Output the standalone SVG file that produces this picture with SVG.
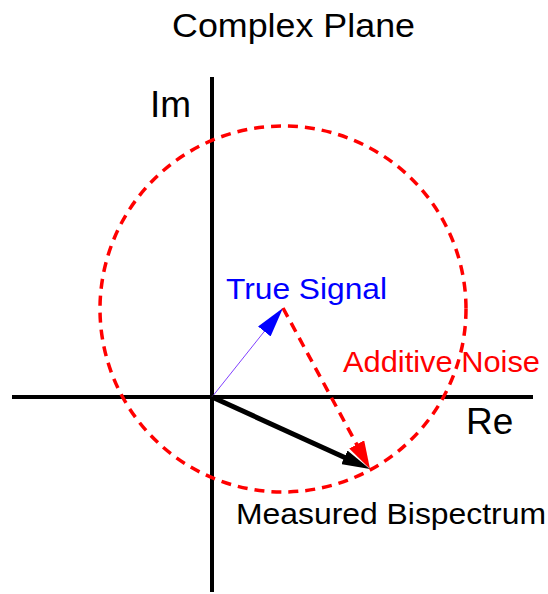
<svg xmlns="http://www.w3.org/2000/svg" width="548" height="594" viewBox="0 0 548 594">
  <style>
    .lbl { font-family: "Liberation Sans", Arial, sans-serif; }
    .axis { stroke: #000; stroke-width: 4; fill: none; }
    .noise { stroke: #FF0000; stroke-width: 3.5; fill: none; stroke-dasharray: 10 7; }
  </style>
  <defs>
    <marker id="ahBlack" markerUnits="userSpaceOnUse" viewBox="0 0 28 15" refX="4" refY="7.5" markerWidth="28" markerHeight="15" orient="auto">
      <path d="M0,0 L28,7.5 L0,15 z" fill="#000"/>
    </marker>
    <marker id="ahBlue" markerUnits="userSpaceOnUse" viewBox="0 0 30 16" refX="4" refY="8" markerWidth="30" markerHeight="16" orient="auto">
      <path d="M0,0 L30,8 L0,16 z" fill="#0000FF"/>
    </marker>
    <marker id="ahRed" markerUnits="userSpaceOnUse" viewBox="0 0 28 17" refX="4" refY="8.5" markerWidth="28" markerHeight="17" orient="auto">
      <path d="M0,0 L28,8.5 L0,17 z" fill="#FF0000"/>
    </marker>
  </defs>
  <rect width="548" height="594" fill="#fff"/>

  <text class="lbl" x="172" y="37" font-size="33" textLength="243" lengthAdjust="spacingAndGlyphs" fill="#000">Complex Plane</text>

  <g id="axes">
    <line class="axis" x1="212" y1="77" x2="212" y2="592"/>
    <line class="axis" x1="12" y1="397" x2="533" y2="397"/>
    <text class="lbl" x="150" y="117" font-size="37" fill="#000">Im</text>
    <text class="lbl" x="466" y="434" font-size="37" fill="#000">Re</text>
  </g>

  <g id="noise-circle">
    <circle class="noise" cx="283" cy="309" r="183"/>
  </g>

  <g id="connectors">
    <line x1="212" y1="397" x2="266.8" y2="328.3" stroke="#8040FF" stroke-width="1" marker-end="url(#ahBlue)"/>
    <line class="noise" x1="283" y1="308" x2="358.6" y2="447.9" marker-end="url(#ahRed)"/>
    <line x1="212" y1="397" x2="348" y2="459" stroke="#000" stroke-width="5" marker-end="url(#ahBlack)"/>
  </g>

  <g id="true-signal">
    <text class="lbl" x="226" y="299" font-size="29" textLength="161" lengthAdjust="spacingAndGlyphs" fill="#0000FF">True Signal</text>
  </g>
  <g id="additive-noise">
    <text class="lbl" x="343" y="372" font-size="30" textLength="197" lengthAdjust="spacingAndGlyphs" fill="#FF0000">Additive Noise</text>
  </g>
  <g id="measured-bispectrum">
    <text class="lbl" x="236" y="524" font-size="30" textLength="310" lengthAdjust="spacingAndGlyphs" fill="#000">Measured Bispectrum</text>
  </g>
</svg>
